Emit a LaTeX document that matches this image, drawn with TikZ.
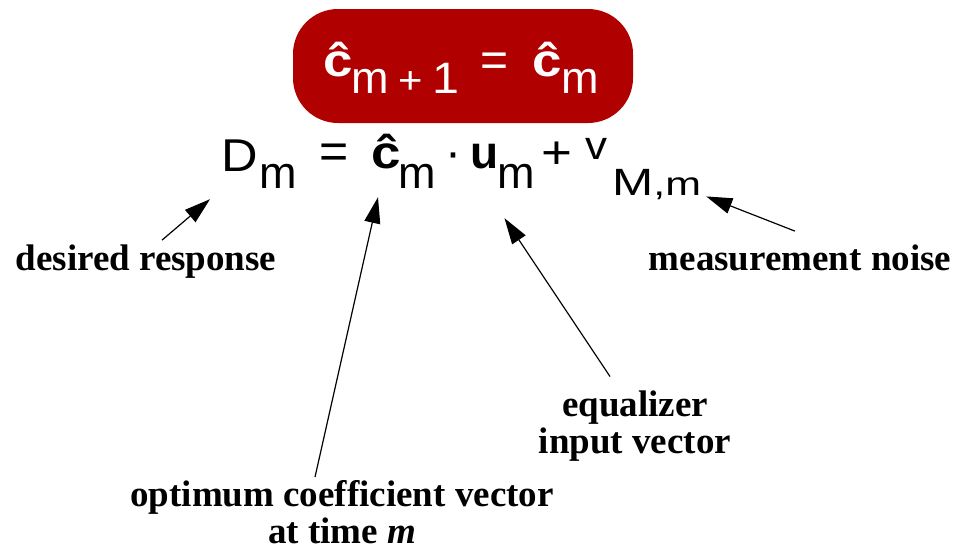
\documentclass[tikz,border=0pt]{standalone}
\usepackage{graphicx}
\usepackage{fontspec}
\setmainfont{Liberation Serif}
\setsansfont{Liberation Sans}
\usetikzlibrary{arrows.meta, positioning}
\definecolor{rojoCaja}{HTML}{B00000}
\colorlet{colTexto}{black}
\newcommand{\tam}[1]{\fontsize{#1}{#1}\selectfont}
\newcommand{\bajo}[2]{\raisebox{-#1pt}{#2}}
\newcommand{\ancho}[2]{\scalebox{#1}[1]{#2}}
\tikzset{
  cajaRoja/.style={
    fill=rojoCaja, rounded corners=45pt,
    minimum width=340pt, minimum height=114pt, inner sep=0pt
  },
  termino/.style={font=\sffamily, text=colTexto, inner sep=0pt, anchor=base west},
  terminoCaja/.style={termino, text=white},
  etiqueta/.style={font=\rmfamily\bfseries\tam{37}, text=colTexto, align=center, inner sep=0pt},
  flecha/.style={-{Triangle[length=26pt, width=16pt]}, line width=1.2pt, colTexto},
}

\begin{document}
\begin{tikzpicture}[x=1pt, y=-1pt]
  \useasboundingbox (0,0) rectangle (955,557);
  % caja con la actualizacion
  \node[cajaRoja] (caja) at (463,66) {};
  \node[terminoCaja] (actualiza) at (323,76)
    {\ancho{1.15}{\tam{46}\bfseries ĉ}\hspace{-1pt}\bajo{17}{\tam{45}m\hspace{9pt}\ancho{1.1}{\tam{38}+}\hspace{10pt}\ancho{1.1}{\tam{44}1}}\hspace{21pt}{\tam{48}=}\hspace{24pt}\ancho{1.15}{\tam{46}\bfseries ĉ}\bajo{17}{\tam{45}m}};
  % ecuacion
  \node[termino] (Dm) at (221,171) {\ancho{1.1}{\tam{46}D}\hspace{2pt}\bajo{17}{\tam{45}m}};
  \node[termino] (igual) at (319,168) {\tam{50}=};
  \node[termino] (cm) at (371,168) {\ancho{1.15}{\tam{46}\bfseries ĉ}\hspace{-2.4pt}\bajo{20}{\tam{45}m}};
  \node[termino] (punto) at (445,168) {\tam{48}·};
  \node[termino] (um) at (470,168) {{\tam{46}\bfseries u}\hspace{-1pt}\bajo{20}{\tam{45}m}};
  \node[termino] (mas) at (541,168) {\ancho{1.15}{\tam{46}+}};
  \node[termino] (vMm) at (585,168) {\raisebox{9pt}{\ancho{1.1}{\tam{40}v}}\hspace{5pt}\bajo{27}{\ancho{1.3}{\tam{38}M\tam{33},m}}};
  % etiquetas
  \node[etiqueta, anchor=base] (deseada) at (146,270) {desired response};
  \node[etiqueta, anchor=base] (ruido) at (800,270) {measurement noise};
  \node[etiqueta] (entrada) at (635,426) {equalizer\\input vector};
  \node[etiqueta] (coef) at (342,512) {optimum coefficient vector\\at time \textit{m}};
  % flechas
  \draw[flecha] ([xshift=16pt, yshift=4pt]deseada.north) -- ([xshift=-11pt, yshift=-11pt]Dm.south west);
  \draw[flecha] ([xshift=-27pt, yshift=3pt]coef.north) -- ([xshift=7pt, yshift=-9pt]cm.south west);
  \draw[flecha] ([xshift=-25pt, yshift=14pt]entrada.north) -- ([xshift=2pt, yshift=-30pt]um.south);
  \draw[flecha] ([xshift=-5pt, yshift=13pt]ruido.north) -- ([xshift=5pt, yshift=3pt]vMm.south east);
\end{tikzpicture}
\end{document}
